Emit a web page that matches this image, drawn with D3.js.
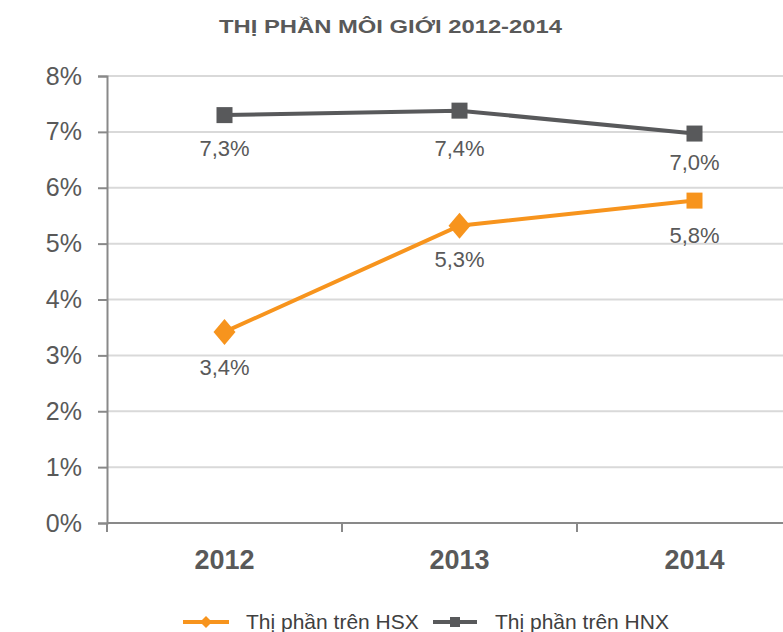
<!DOCTYPE html>
<html>
<head>
<meta charset="utf-8">
<script src="https://cdn.jsdelivr.net/npm/d3@7"></script>
<style>
  body { margin: 0; background: #fff; }
  svg { font-family: "Liberation Sans", Arial, sans-serif; }
</style>
</head>
<body>
<div id="chart"></div>
<script>
const years = ["2012", "2013", "2014"];
const hsxValues = [3.42, 5.32, 5.77];
const hnxValues = [7.3, 7.38, 6.97];
const hsxLabels = ["3,4%", "5,3%", "5,8%"];
const hnxLabels = ["7,3%", "7,4%", "7,0%"];
const yTicks = [0, 1, 2, 3, 4, 5, 6, 7, 8];
const seriesNames = ["Thị phần trên HSX", "Thị phần trên HNX"];

// label nudges below each point (px), as placed in the original
const hnxLabelDy = [41, 45, 36];
const hsxLabelDy = [43, 41, 42];

const W = 783, H = 632;
const margin = {top: 76, left: 107, bottom: 109};
const orange = "#f7941d", grey = "#58595b", textColor = "#595959";

const svg = d3.select("#chart").append("svg")
  .attr("width", W)
  .attr("height", H);

svg.append("text")
  .attr("x", 219).attr("y", 33)
  .attr("font-size", 19).attr("font-weight", "bold")
  .attr("fill", textColor)
  .attr("textLength", 343).attr("lengthAdjust", "spacingAndGlyphs")
  .text("THỊ PHẦN MÔI GIỚI 2012-2014");

var x = d3.scaleBand()
  .domain(years)
  .range([margin.left, margin.left + 705]);

var y = d3.scaleLinear()
  .domain([0, 8])
  .range([H - margin.bottom, margin.top]);

// gridlines
svg.append("g")
  .selectAll("line")
  .data(yTicks.filter(d => d > 0))
  .join("line")
  .attr("x1", margin.left).attr("x2", W)
  .attr("y1", d => y(d)).attr("y2", d => y(d))
  .attr("stroke", "#d9d9d9").attr("stroke-width", 2);

// y axis
var yAxis = svg.append("g")
  .attr("transform", "translate(" + margin.left + ",0)")
  .call(d3.axisLeft(y).tickValues(yTicks).tickFormat(d => d + "%").tickSize(9).tickPadding(16));
yAxis.select(".domain").attr("stroke", "#898989").attr("stroke-width", 2);
yAxis.selectAll(".tick line").attr("stroke", "#898989").attr("stroke-width", 2);
yAxis.selectAll(".tick text")
  .attr("font-size", 25).attr("fill", textColor)
  .attr("font-family", "Liberation Sans, Arial, sans-serif");

// x axis
var xAxis = svg.append("g")
  .attr("transform", "translate(0," + y(0) + ")");
xAxis.append("line")
  .attr("x1", margin.left).attr("x2", W)
  .attr("stroke", "#898989").attr("stroke-width", 2);
xAxis.selectAll(".xtick")
  .data(years.concat(["end"]))
  .join("line")
  .attr("class", "xtick")
  .attr("x1", (d, i) => margin.left + i * x.bandwidth())
  .attr("x2", (d, i) => margin.left + i * x.bandwidth())
  .attr("y1", 0).attr("y2", 9)
  .attr("stroke", "#898989").attr("stroke-width", 2);
xAxis.selectAll(".xlabel")
  .data(years)
  .join("text")
  .attr("class", "xlabel")
  .attr("x", d => x(d) + x.bandwidth() / 2)
  .attr("y", 46)
  .attr("text-anchor", "middle")
  .attr("font-size", 27).attr("font-weight", "bold")
  .attr("fill", textColor)
  .text(d => d);

var cx = d => x(d) + x.bandwidth() / 2;
var line = d3.line()
  .x((d, i) => cx(years[i]))
  .y(d => y(d));

// HNX series
svg.append("path")
  .datum(hnxValues)
  .attr("d", line)
  .attr("fill", "none")
  .attr("stroke", grey).attr("stroke-width", 4);
svg.selectAll(".hnxpt")
  .data(hnxValues)
  .join("rect")
  .attr("class", "hnxpt")
  .attr("x", (d, i) => cx(years[i]) - 8)
  .attr("y", d => y(d) - 8)
  .attr("width", 16).attr("height", 16)
  .attr("fill", grey);
svg.selectAll(".hnxlbl")
  .data(hnxValues)
  .join("text")
  .attr("class", "hnxlbl")
  .attr("x", (d, i) => cx(years[i]))
  .attr("y", (d, i) => y(d) + hnxLabelDy[i])
  .attr("text-anchor", "middle")
  .attr("font-size", 22).attr("fill", textColor)
  .text((d, i) => hnxLabels[i]);

// HSX series
svg.append("path")
  .datum(hsxValues)
  .attr("d", line)
  .attr("fill", "none")
  .attr("stroke", orange).attr("stroke-width", 4);
svg.selectAll(".hsxpt")
  .data(hsxValues)
  .join("path")
  .attr("class", "hsxpt")
  .attr("transform", (d, i) => "translate(" + cx(years[i]) + "," + y(d) + ")")
  .attr("d", (d, i) => i == 2 ? "M-8,-8H8V8H-8Z" : "M0,-13L11,0L0,13L-11,0Z")
  .attr("fill", orange);
svg.selectAll(".hsxlbl")
  .data(hsxValues)
  .join("text")
  .attr("class", "hsxlbl")
  .attr("x", (d, i) => cx(years[i]))
  .attr("y", (d, i) => y(d) + hsxLabelDy[i])
  .attr("text-anchor", "middle")
  .attr("font-size", 22).attr("fill", textColor)
  .text((d, i) => hsxLabels[i]);

// legend
var legend = svg.append("g").attr("transform", "translate(0,622)");
var lg1 = legend.append("g").attr("transform", "translate(183,0)");
lg1.append("line").attr("x1", 0).attr("x2", 46)
  .attr("stroke", orange).attr("stroke-width", 4);
lg1.append("path").attr("d", "M23,-6L29,0L23,6L17,0Z").attr("fill", orange);
lg1.append("text").attr("x", 63).attr("y", 7)
  .attr("font-size", 21).attr("fill", "#404040")
  .text(seriesNames[0]);
var lg2 = legend.append("g").attr("transform", "translate(433,0)");
lg2.append("line").attr("x1", 0).attr("x2", 44)
  .attr("stroke", grey).attr("stroke-width", 4);
lg2.append("rect").attr("x", 17).attr("y", -5).attr("width", 10).attr("height", 10).attr("fill", grey);
lg2.append("text").attr("x", 62).attr("y", 7)
  .attr("font-size", 21).attr("fill", "#404040")
  .text(seriesNames[1]);
</script>
</body>
</html>
